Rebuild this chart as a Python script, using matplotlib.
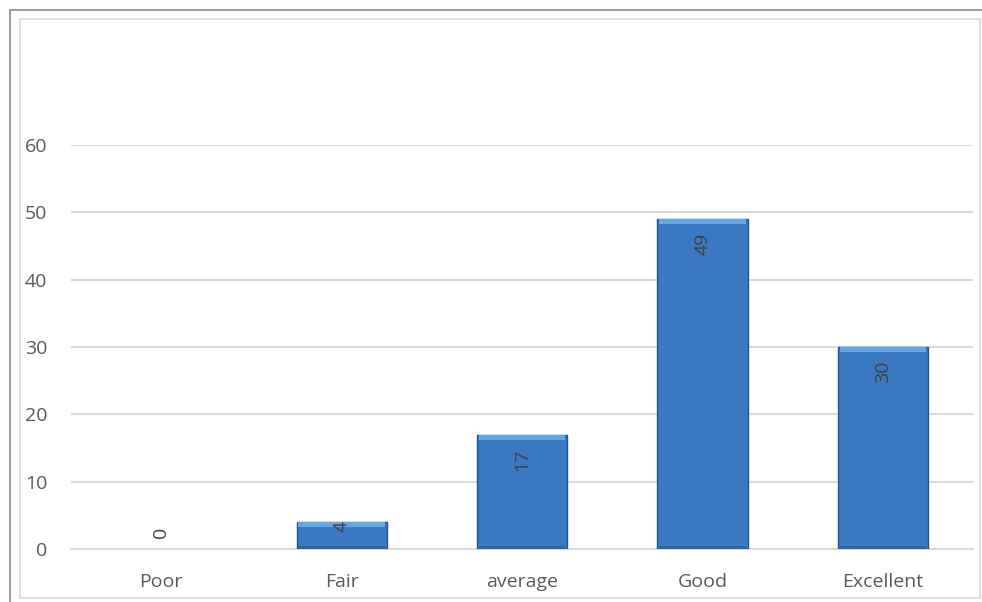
import matplotlib.pyplot as plt
from matplotlib.patches import Rectangle

# ---- data ----
categories = ["Poor", "Fair", "average", "Good", "Excellent"]
values = [0, 4, 17, 49, 30]
y_ticks = [0, 10, 20, 30, 40, 50, 60]

plt.rcParams['font.family'] = ['Open Sans', 'DejaVu Sans']

fig = plt.figure(figsize=(9.82, 6.02), dpi=100)
ax = fig.add_axes([71/982, 1 - 549/602, (973-71)/982, (549-145)/602])

# chart frames (outer gray + inner light)
fig.add_artist(Rectangle((10/982, -0.1), 1.2, 1 - 10/602 + 0.1, transform=fig.transFigure,
                         fill=False, edgecolor='#8c8c8c', lw=1.2))
fig.add_artist(Rectangle((20/982, 4/602), (980-20)/982, (583-4)/602, transform=fig.transFigure,
                         fill=False, edgecolor='#d9d9d9', lw=1.2))

x = list(range(len(categories)))
bars = ax.bar(x, values, width=0.5, color='#3a78c2', edgecolor='#24548c',
              lw=[1.0 if v > 0 else 0 for v in values], zorder=3)

# bevel look: light strip on top, darker strip at bottom
for b in bars:
    hh = b.get_height()
    if hh <= 0:
        continue
    hx, hw = b.get_x(), b.get_width()
    t = min(0.8, hh * 0.2)
    ax.add_patch(Rectangle((hx + hw*0.02, hh - t), hw*0.96, t, color='#62a8e6', lw=0, zorder=4))
    ax.add_patch(Rectangle((hx + hw*0.02, 0), hw*0.96, t*0.6, color='#2d63a4', lw=0, zorder=4))

# value labels, rotated, inside end of the bar
for xi, v in zip(x, values):
    if v == 0:
        ax.annotate(str(v), (xi, v), xytext=(0, 8), textcoords='offset points',
                    rotation=90, ha='center', va='bottom', fontsize=14, color='#404040', zorder=5)
    else:
        off = -10 if v >= 10 else 1
        ax.annotate(str(v), (xi, v), xytext=(0, off), textcoords='offset points',
                    rotation=90, ha='center', va='top', fontsize=14, color='#404040', zorder=5)

ax.set_ylim(0, 60)
ax.set_xlim(-0.5, len(categories) - 0.5)
ax.set_yticks(y_ticks)
ax.set_xticks(x)
ax.set_xticklabels(categories)
ax.yaxis.grid(True, color='#d9d9d9', lw=1.5, zorder=0)
ax.set_axisbelow(True)
for s in ['top', 'right', 'left']:
    ax.spines[s].set_visible(False)
ax.spines['bottom'].set_color('#d9d9d9')
ax.spines['bottom'].set_linewidth(1.5)
ax.tick_params(axis='both', length=0, labelsize=14, labelcolor='#595959')
ax.tick_params(axis='y', pad=17)
ax.tick_params(axis='x', pad=17)

plt.savefig("out.png", dpi=100)
